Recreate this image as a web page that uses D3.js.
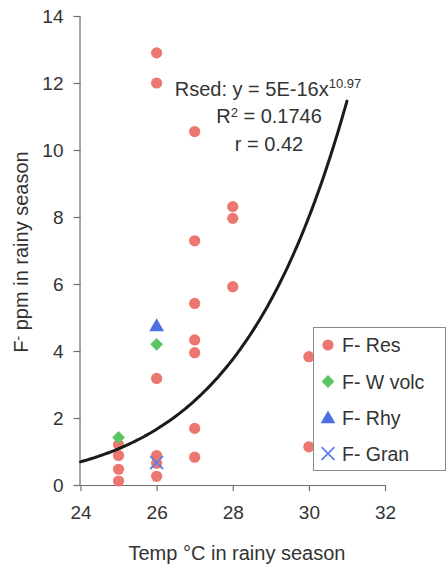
<!DOCTYPE html>
<html>
<head>
<meta charset="utf-8">
<script src="https://cdn.jsdelivr.net/npm/d3@7"></script>
<style>
  html, body { margin: 0; padding: 0; background: #fff; }
  svg { display: block; font-family: "Liberation Sans", Arial, sans-serif; }
</style>
</head>
<body>
<svg id="chart" width="447" height="569"></svg>
<script>
// ---- data ----
const xTicks = [24, 26, 28, 30, 32];
const yTicks = [0, 2, 4, 6, 8, 10, 12, 14];

const resX = [25, 25, 25, 25, 26, 26, 26, 26, 26, 26, 27, 27, 27, 27, 27, 27, 27, 28, 28, 28, 30, 30];
const resY = [1.2, 0.88, 0.47, 0.12, 12.9, 12.0, 3.18, 0.88, 0.65, 0.26, 10.55, 7.29, 5.42, 4.33, 3.95, 1.69, 0.83, 8.31, 7.96, 5.92, 3.83, 1.14];

const wvolcX = [25, 26];
const wvolcY = [1.42, 4.2];

const rhyX = [26];
const rhyY = [4.75];

const granX = [26];
const granY = [0.67];

// trend line Rsed: y = a * x^b (from the chart's equation)
const trendA = 5e-16;
const trendB = 10.97;
const trendRange = [24, 31];

const legendLabels = ["F- Res", "F- W volc", "F- Rhy", "F- Gran"];

// ---- colours ----
const cRes = "#ec7670";
const cVolc = "#5cc465";
const cRhy = "#4d6fe3";
const cGran = "#5f7fe6";
const textColor = "#333";

const svg = d3.select("#chart");
const tickFont = "19px";
const titleFont = "20px";

const x = d3.scaleLinear().domain([24, 32]).range([80.5, 385]);
const y = d3.scaleLinear().domain([0, 14]).range([485, 16]);

// axes
const axisColor = "#6e6e6e";
const gx = svg.append("g").attr("transform", `translate(0,${y(0)})`)
  .call(d3.axisBottom(x).tickValues(xTicks).tickSize(6).tickPadding(15).tickFormat(d3.format("d")));
const gy = svg.append("g").attr("transform", `translate(${x(24)},0)`)
  .call(d3.axisLeft(y).tickValues(yTicks).tickSize(7).tickPadding(10).tickFormat(d3.format("d")));
[gx, gy].forEach(g => {
  g.select(".domain").attr("stroke", axisColor).attr("stroke-width", 1.2);
  g.selectAll(".tick line").attr("stroke", axisColor).attr("stroke-width", 1.2);
  g.selectAll(".tick text").attr("fill", textColor).style("font-size", tickFont)
    .style("font-family", '"Liberation Sans", Arial, sans-serif');
});
gx.select(".domain").attr("d", `M${x(24)},0.5H${x(32)}`);
gy.select(".domain").attr("d", `M-0.5,${y(0)}V${y(14)}`);

// axis titles
svg.append("text")
  .attr("x", 237).attr("y", 560)
  .attr("text-anchor", "middle")
  .attr("fill", textColor)
  .style("font-size", titleFont)
  .text("Temp °C in rainy season");

const yt = svg.append("text")
  .attr("transform", "translate(28,252) rotate(-90)")
  .attr("text-anchor", "middle")
  .attr("fill", textColor)
  .style("font-size", titleFont);
yt.append("tspan").text("F");
yt.append("tspan").attr("dy", -5).style("font-size", "14px").text("-");
yt.append("tspan").attr("dy", 5).text(" ppm in rainy season");

// markers
const plot = svg.append("g");
plot.selectAll("circle.res").data(d3.zip(resX, resY)).join("circle")
  .attr("class", "res")
  .attr("cx", d => x(d[0])).attr("cy", d => y(d[1])).attr("r", 5.6)
  .attr("fill", cRes);

const diamond = d3.symbol().type(d3.symbolSquare).size(82)();
plot.selectAll("path.volc").data(d3.zip(wvolcX, wvolcY)).join("path")
  .attr("class", "volc")
  .attr("d", diamond)
  .attr("transform", d => `translate(${x(d[0])},${y(d[1])}) rotate(45)`)
  .attr("fill", cVolc);

const tri = d3.symbol().type(d3.symbolTriangle).size(95)();
plot.selectAll("path.rhy").data(d3.zip(rhyX, rhyY)).join("path")
  .attr("class", "rhy")
  .attr("d", tri)
  .attr("transform", d => `translate(${x(d[0])},${y(d[1]) + 1})`)
  .attr("fill", cRhy);

const cross = d3.symbol().type(d3.symbolTimes).size(110)();
plot.selectAll("path.gran").data(d3.zip(granX, granY)).join("path")
  .attr("class", "gran")
  .attr("d", cross)
  .attr("transform", d => `translate(${x(d[0])},${y(d[1])})`)
  .attr("fill", "none").attr("stroke", cGran).attr("stroke-width", 1.8);

// trend line
const trendXs = d3.range(trendRange[0], trendRange[1] + 0.0001, 0.05);
const line = d3.line().x(d => x(d)).y(d => y(trendA * Math.pow(d, trendB))).curve(d3.curveLinear);
svg.append("path")
  .attr("d", line(trendXs))
  .attr("fill", "none")
  .attr("stroke", "#1b1b1b")
  .attr("stroke-width", 3)
  .attr("stroke-linecap", "round");

// equation annotation
const ann = svg.append("g").attr("fill", textColor).style("font-size", titleFont);
const l1 = ann.append("text").attr("x", 268).attr("y", 96).attr("text-anchor", "middle");
l1.append("tspan").text("Rsed: y = 5E-16x");
l1.append("tspan").attr("dy", -8).style("font-size", "13px").text("10.97");
const l2 = ann.append("text").attr("x", 269).attr("y", 123).attr("text-anchor", "middle");
l2.append("tspan").text("R");
l2.append("tspan").attr("dy", -6).style("font-size", "13px").text("2");
l2.append("tspan").attr("dy", 6).text(" = 0.1746");
ann.append("text").attr("x", 269).attr("y", 151).attr("text-anchor", "middle").text("r = 0.42");

// legend
const lg = svg.append("g");
lg.append("rect").attr("x", 313.5).attr("y", 327.5).attr("width", 132).attr("height", 143)
  .attr("fill", "#fff").attr("stroke", "#8a8a8a").attr("stroke-width", 1);
const ly = [345, 381.5, 418, 453.5];
const lx = 328;
lg.append("circle").attr("cx", lx).attr("cy", ly[0]).attr("r", 5.6).attr("fill", cRes);
lg.append("path").attr("d", diamond).attr("transform", `translate(${lx},${ly[1]}) rotate(45)`).attr("fill", cVolc);
lg.append("path").attr("d", tri).attr("transform", `translate(${lx},${ly[2] + 1})`).attr("fill", cRhy);
lg.append("path").attr("d", cross).attr("transform", `translate(${lx},${ly[3]})`)
  .attr("fill", "none").attr("stroke", cGran).attr("stroke-width", 1.8);
lg.selectAll("text").data(legendLabels).join("text")
  .attr("x", 342).attr("y", (d, i) => ly[i] + 7)
  .attr("fill", textColor).style("font-size", "19.5px")
  .text(d => d);
</script>
</body>
</html>
